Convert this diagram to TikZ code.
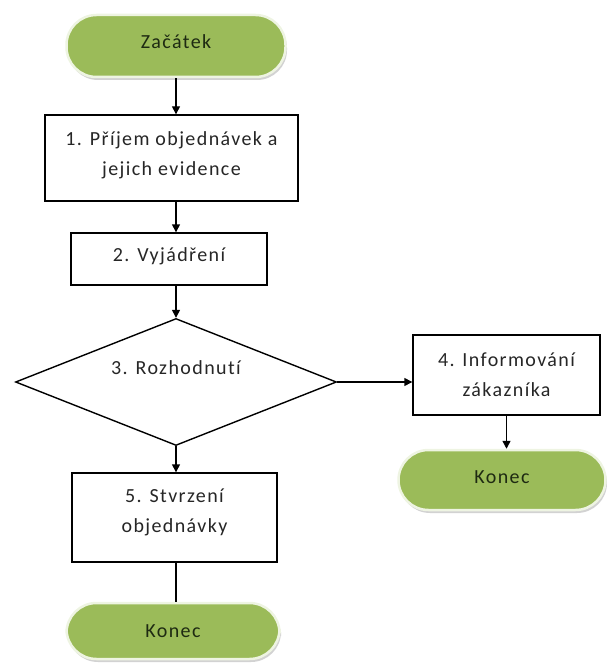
\documentclass[tikz,border=0pt]{standalone}
\usepackage{fontspec}
\setmainfont[LetterSpace=7, Ligatures=NoCommon]{Carlito}
\usetikzlibrary{arrows.meta,shapes.geometric,shadows}
\definecolor{termgreen}{HTML}{9BBB59}
\definecolor{termedge}{HTML}{EEF4E2}
\definecolor{termtext}{HTML}{1E2A12}
\definecolor{boxtext}{HTML}{262626}
\tikzset{
  txt/.style={font=\fontsize{20}{30}\selectfont, align=center, text=boxtext},
  terminal/.style={txt, fill=termgreen, draw=termedge, line width=2.5pt,
    rounded corners=30pt, text=termtext, inner sep=0pt,
    drop shadow={shadow xshift=1.5pt, shadow yshift=-3pt, fill=black!35}},
  stepbox/.style={txt, draw=black, line width=1.4pt, fill=white, inner sep=0pt},
  decision/.style={diamond, draw=black, line width=1.4pt, fill=white,
    aspect=2.5, inner sep=0pt, minimum width=321pt, minimum height=127pt},
  flow/.style={line width=1.4pt, -{Triangle[length=8pt,width=8pt]}},
  plain/.style={line width=1.4pt},
}
\begin{document}
\begin{tikzpicture}[x=1pt,y=-1pt]
  \useasboundingbox (0,0) rectangle (608,671);

  % start and end terminals
  \node[terminal, minimum width=219pt, minimum height=62pt, text depth=8pt] (start) at (176,46) {Začátek};
  \node[terminal, minimum width=207pt, minimum height=60pt, text depth=6pt] (endR) at (502,480) {Konec};
  \node[terminal, minimum width=213pt, minimum height=56pt] (endL) at (173,631) {Konec};

  % process steps
  \node[stepbox, minimum width=253pt, minimum height=86pt, text depth=9pt] (s1) at (171.5,158) {1. Příjem objednávek a\\jejich evidence};
  \node[stepbox, minimum width=196pt, minimum height=52pt, text depth=8pt] (s2) at (169,259) {2. Vyjádření};
  \node[decision, label={[txt, yshift=14pt]center:3. Rozhodnutí}] (s3) at (176,382) {};
  \node[stepbox, minimum width=187pt, minimum height=80pt] (s4) at (506.5,375) {4. Informování\\zákazníka};
  \node[stepbox, minimum width=205pt, minimum height=89pt, text depth=13pt] (s5) at (174.5,517.5) {5. Stvrzení\\objednávky};

  % connectors
  \draw[flow] (start.south) -- (start.south |- s1.north);
  \draw[flow] (start.south |- s1.south) -- (start.south |- s2.north);
  \draw[flow] (start.south |- s2.south) -- (s3.north);
  \draw[flow] (s3.east) -- (s4.west |- s3.east);
  \draw[flow] (s4.south) -- (s4.south |- endR.north);
  \draw[flow] (s3.south) -- (s3.south |- s5.north);
  \draw[plain] (s3.south |- s5.south) -- (s3.south |- endL.north);
\end{tikzpicture}
\end{document}
